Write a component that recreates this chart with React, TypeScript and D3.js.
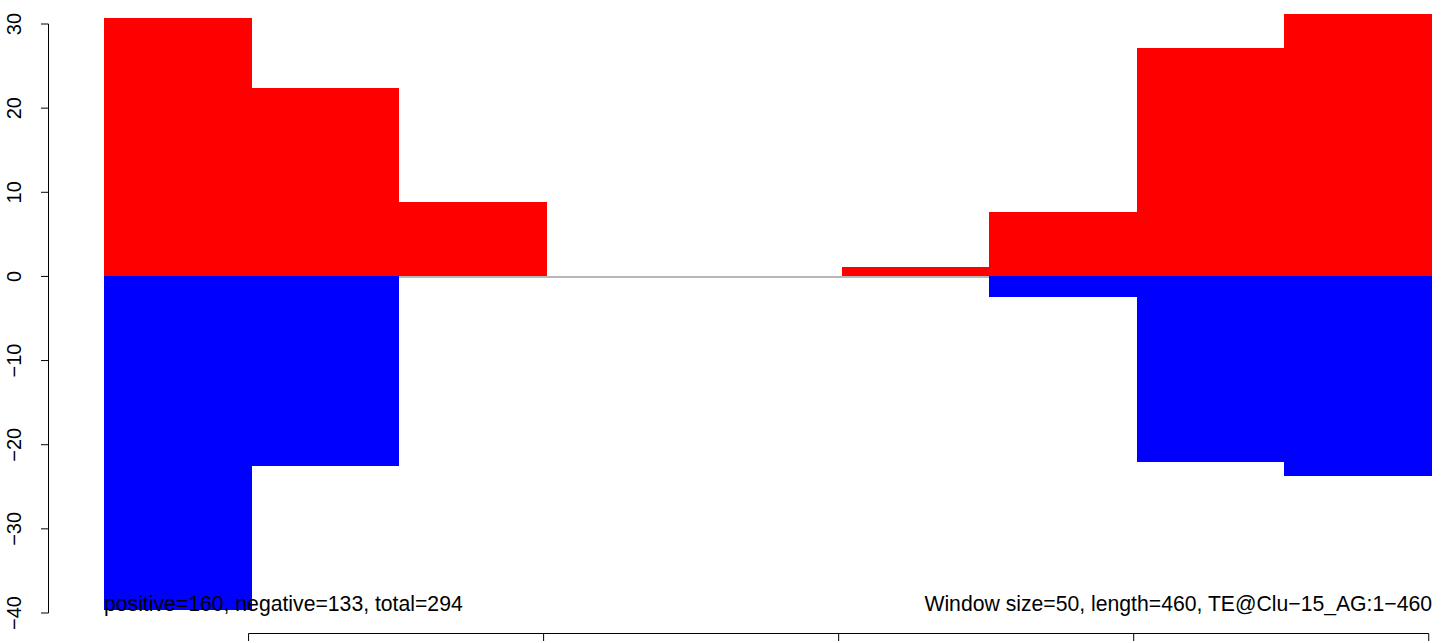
import React from "react";
import * as d3 from "d3";

const windowStarts = [1, 51, 101, 151, 201, 251, 301, 351, 401];
const windowSize = 50;
const positiveValues = [30.7, 22.4, 8.85, 0, 0, 1.15, 7.7, 27.2, 31.2];
const negativeValues = [-39.6, -22.5, 0, 0, 0, 0, -2.4, -22.0, -23.7];
const yTicks = [-40, -30, -20, -10, 0, 10, 20, 30];
const xTicks = [50, 150, 250, 350, 450];
const leftLabel = "positive=160, negative=133, total=294";
const rightLabel = "Window size=50, length=460, TE@Clu\u221215_AG:1\u2212460";

const W = 1444;
const H = 643;
const FONT = "'Liberation Sans', Arial, Helvetica, sans-serif";

export default function App() {
  const x = d3.scaleLinear().domain([1, 451]).range([104, 1431.7]);
  const y = d3.scaleLinear().domain([-40, 30]).range([613, 24]);
  const fmt = (v: number) => (v < 0 ? "\u2212" + Math.abs(v) : String(v));

  return (
    <svg
      width={W}
      height={H}
      style={{ position: "absolute", left: 0, top: 0, background: "#fff" }}
      fontFamily={FONT}
    >
      <line x1={x(1)} x2={x(451)} y1={y(0) + 0.5} y2={y(0) + 0.5} stroke="#a0a0a0" strokeWidth={1.5} />
      {windowStarts.map((s, i) => (
        <g key={i} shapeRendering="crispEdges">
          {positiveValues[i] > 0 && (
            <rect
              x={x(s)}
              width={x(s + windowSize) - x(s)}
              y={y(positiveValues[i])}
              height={y(0) - y(positiveValues[i])}
              fill="#ff0000"
            />
          )}
          {negativeValues[i] < 0 && (
            <rect
              x={x(s)}
              width={x(s + windowSize) - x(s)}
              y={y(0)}
              height={y(negativeValues[i]) - y(0)}
              fill="#0000ff"
            />
          )}
        </g>
      ))}
      {/* y axis */}
      <line x1={48.5} x2={48.5} y1={y(30)} y2={y(-40)} stroke="#000" strokeWidth={1} />
      {yTicks.map((t) => (
        <g key={t}>
          <line x1={41} x2={48.5} y1={y(t)} y2={y(t)} stroke="#000" strokeWidth={1} />
          <text
            transform={`translate(21,${y(t)}) rotate(-90)`}
            textAnchor="middle"
            fontSize={20}
            fill="#000"
          >
            {fmt(t)}
          </text>
        </g>
      ))}
      {/* bottom axis */}
      <line x1={x(xTicks[0])} x2={x(xTicks[xTicks.length - 1])} y1={633.5} y2={633.5} stroke="#000" strokeWidth={1} />
      {xTicks.map((t) => (
        <line key={t} x1={x(t)} x2={x(t)} y1={633.5} y2={641} stroke="#000" strokeWidth={1} />
      ))}
      <text x={104} y={611} fontSize={21.2} fill="#000">
        {leftLabel}
      </text>
      <text x={1432} y={611} fontSize={21.2} fill="#000" textAnchor="end">
        {rightLabel}
      </text>
    </svg>
  );
}
